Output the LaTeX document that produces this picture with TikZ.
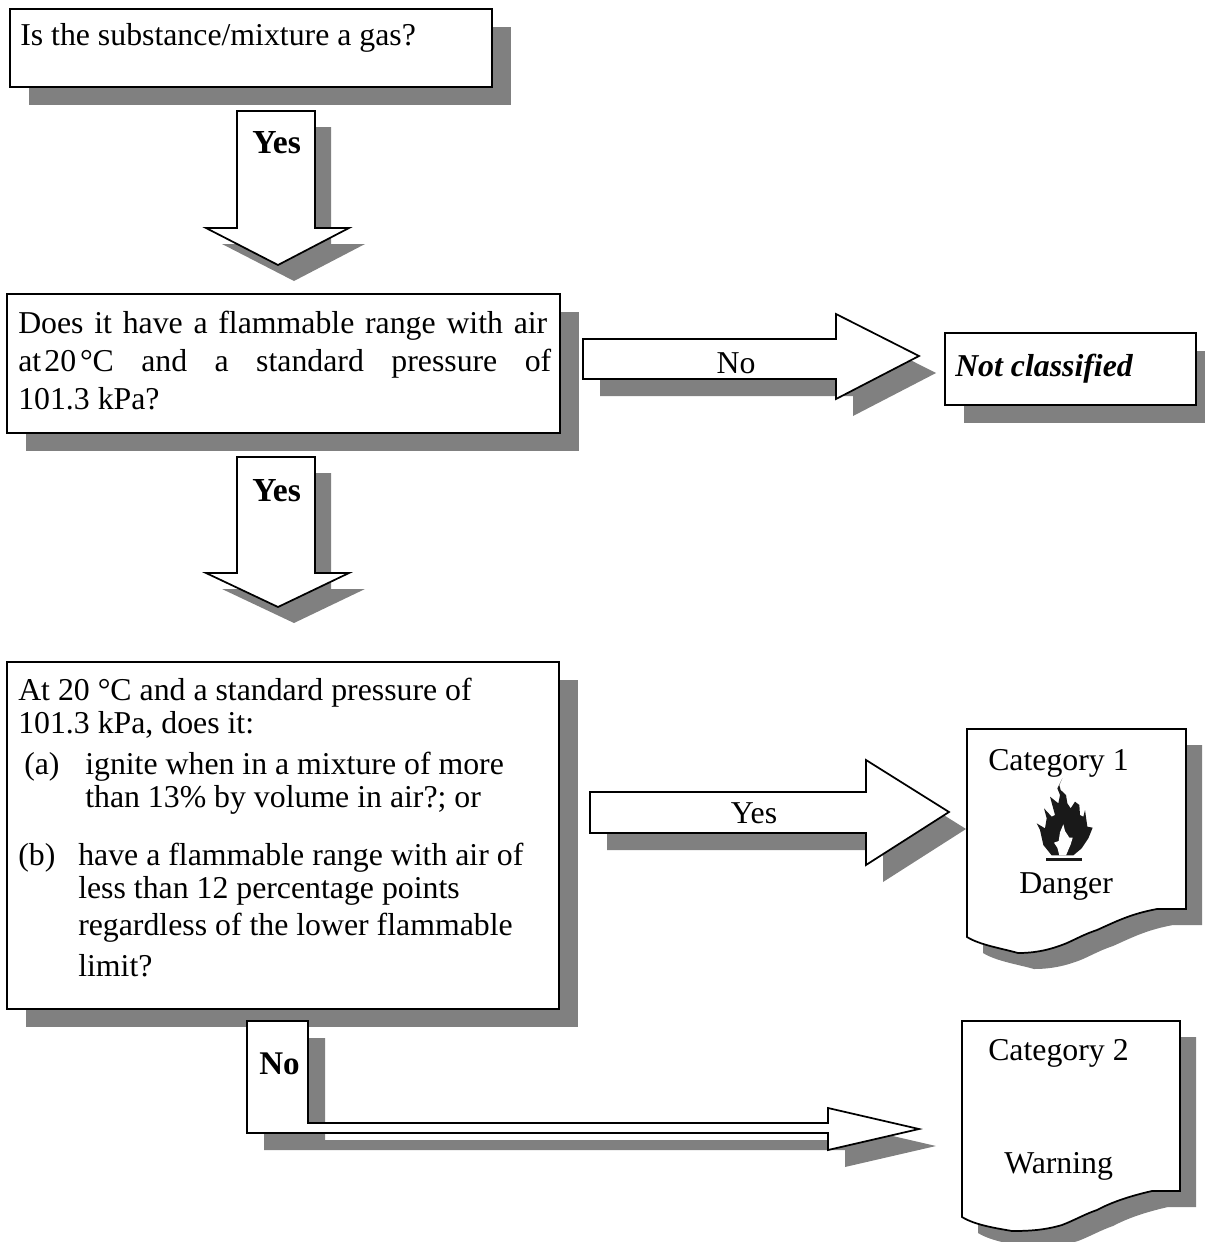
\documentclass[tikz,border=0pt]{standalone}
\usepackage{fontspec}
\setmainfont{Liberation Serif}
\usetikzlibrary{shadows}
\definecolor{shadowgray}{gray}{0.5}
\tikzset{
  blk/.style={draw=black,fill=white,line width=1.3pt,line join=miter,
    copy shadow={shadow xshift=12pt,shadow yshift=-12pt,fill=shadowgray,draw=none}},
  blkr/.style={draw=black,fill=white,line width=1.3pt,line join=miter,
    copy shadow={shadow xshift=12.75pt,shadow yshift=-12.75pt,fill=shadowgray,draw=none}},
  boxnode/.style={draw=black,fill=white,line width=1.3pt,rectangle,inner sep=0pt,outer sep=0pt,anchor=north west,
    copy shadow={shadow xshift=14pt,shadow yshift=-13.5pt,fill=shadowgray,draw=none}},
  lbl/.style={anchor=base west,inner sep=0pt,font=\fontsize{23.85}{26}\selectfont},
  lblc/.style={anchor=base,inner sep=0pt,font=\fontsize{23.85}{26}\selectfont},
  lblb/.style={anchor=base west,inner sep=0pt,font=\fontsize{25.2}{27}\selectfont\bfseries},
}
\newcommand{\just}[2]{\hbox to #1{#2}}
\begin{document}
\begin{tikzpicture}[x=0.75pt,y=-0.75pt]
\useasboundingbox (0,0) rectangle (1204,1242);
% boxes
\node[boxnode,minimum width=361.5pt,minimum height=58.5pt] (q1) at (10,9) {};
\node[boxnode,minimum width=414.75pt,minimum height=104.25pt] (q2) at (7,294) {};
\node[boxnode,minimum width=414pt,minimum height=260.25pt] (q3) at (7,662) {};
\node[boxnode,minimum width=188.25pt,minimum height=54pt] (nc) at (945,333) {};
% block arrows
\path[blk] (237,111) -- (315,111) -- (315,228) -- (349,228) -- (278,265) -- (206,228) -- (237,228) -- cycle;
\path[blk] (237,457) -- (315,457) -- (315,573) -- (349,573) -- (278,607) -- (206,573) -- (237,573) -- cycle;
\path[blkr] (583,339) -- (836,339) -- (836,314) -- (919,356) -- (836,399) -- (836,379) -- (583,379) -- cycle;
\path[blkr] (590,792) -- (866,792) -- (866,760) -- (949,812) -- (866,865) -- (866,833) -- (590,833) -- cycle;
\path[blkr] (247,1021) -- (308,1021) -- (308,1123) -- (828,1123) -- (828,1108) -- (919,1129) -- (828,1150) -- (828,1133) -- (247,1133) -- cycle;
% documents
\path[blk] (967,729) -- (1186,729) -- (1186,909) -- (1157,909)
  .. controls (1130,914) and (1115,922) .. (1097,930)
  .. controls (1085,934) and (1078,938) .. (1067,943)
  .. controls (1050,950) and (1035,953) .. (1018,953)
  .. controls (1000,948) and (980,945) .. (967,937) -- cycle;
\path[blk] (962,1021) -- (1180,1021) -- (1180,1191) -- (1152,1191)
  .. controls (1130,1196) and (1112,1202) .. (1097,1210)
  .. controls (1085,1214) and (1075,1220) .. (1062,1225)
  .. controls (1045,1230) and (1030,1231) .. (1012,1231)
  .. controls (995,1228) and (975,1225) .. (962,1217) -- cycle;
% flame
\begin{scope}[x=0.25pt,y=-0.25pt,shift={(1030*3,775*3)}]
\fill[black!90] (97,10) -- (88,30) -- (92,45) -- (108,60) -- (112,85) -- (122,100) -- (135,80) -- (148,90) -- (150,120) -- (160,125) -- (165,105) -- (172,155) -- (188,158) -- (175,190) -- (155,220) -- (130,241) -- (65,241) -- (40,210) -- (30,165) -- (20,145) -- (45,160) -- (50,130) -- (42,100) -- (65,125) -- (75,120) -- (60,65) -- (85,85) -- (90,60) -- (82,40) -- cycle;
\fill[white] (100,148) -- (105,168) -- (118,188) -- (128,188) -- (122,208) -- (108,241) -- (88,241) -- (82,218) -- (72,203) -- (86,198) -- (90,172) -- cycle;
\fill[black!90] (48,248) rectangle (155,258);
\end{scope}
% text
\node[lbl] (t1) at (20,45) {Is the substance/mixture a gas?};
\node[lblb] (y1) at (252,153) {Yes};
\node[lblb] (y2) at (252,501) {Yes};
\node[lbl] (t2a) at (18,333) {\just{396.75pt}{Does it have a flammable range with air}};
\node[lbl] (t2b) at (18,371) {\just{399.75pt}{at\hskip.1em 20\hskip.12em °C and a standard pressure of}};
\node[lbl] (t2c) at (18,409) {101.3 kPa?};
\node[lblc] (n1) at (736,373) {No};
\node[lbl] (nct) at (955,376) {\textbf{\textit{Not classified}}};
\node[lbl] (t3a) at (18,700) {At 20 °C and a standard pressure of};
\node[lbl] (t3b) at (18,733) {101.3 kPa, does it:};
\node[lbl] (t3c) at (24,774) {(a)};
\node[lbl] (t3d) at (85,774) {ignite when in a mixture of more};
\node[lbl] (t3e) at (85,807) {than 13\% by volume in air?; or};
\node[lbl] (t3f) at (18,865) {(b)};
\node[lbl] (t3g) at (78,865) {have a flammable range with air of};
\node[lbl] (t3h) at (78,898) {less than 12 percentage points};
\node[lbl] (t3i) at (78,935) {regardless of the lower flammable};
\node[lbl] (t3j) at (78,976) {limit?};
\node[lblc] (y3) at (754,823) {Yes};
\node[lbl] (c1) at (988,770) {Category 1};
\node[lbl] (d1) at (1019,893) {Danger};
\node[lblb,font=\fontsize{24.8}{27}\selectfont\bfseries] (n2) at (259,1074) {No};
\node[lbl] (c2) at (988,1060) {Category 2};
\node[lbl] (w2) at (1004,1173) {Warning};
\end{tikzpicture}
\end{document}
